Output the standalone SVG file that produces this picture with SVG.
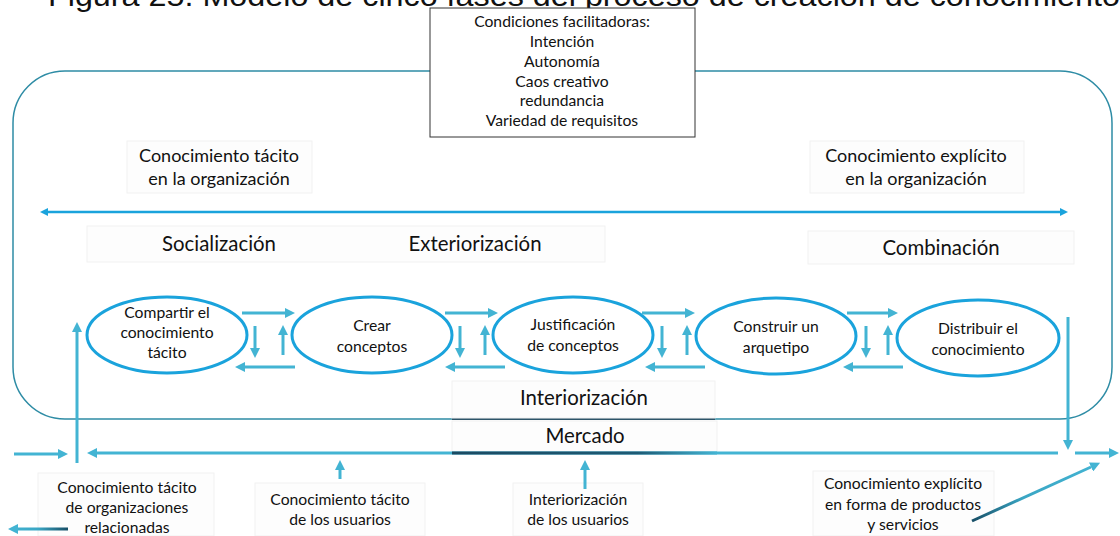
<svg xmlns="http://www.w3.org/2000/svg" width="1120" height="536" viewBox="0 0 1120 536">
<style>
.t{font-family:Lato,"Open Sans","Liberation Sans",sans-serif;font-size:15.7px;fill:#111;text-anchor:middle}
.m{font-family:Lato,"Open Sans","Liberation Sans",sans-serif;font-size:18px;fill:#111;text-anchor:middle}
.h{font-family:Lato,"Open Sans","Liberation Sans",sans-serif;font-size:20.4px;fill:#111;text-anchor:middle}
.bg{fill:#fdfdfd;stroke:#f1f1f1;stroke-width:1}
.el{fill:#fff;stroke:#1aa3dc;stroke-width:3}
.ar{stroke:#43b4d3;stroke-width:3;fill:none}
</style>
<defs>
<marker id="a" markerWidth="10" markerHeight="10" refX="0" refY="5" orient="auto-start-reverse" markerUnits="userSpaceOnUse"><path d="M0,0 L10,5 L0,10 z" fill="#43b4d3"/></marker>
<marker id="b" markerWidth="8" markerHeight="8" refX="0" refY="4" orient="auto-start-reverse" markerUnits="userSpaceOnUse"><path d="M0,0 L8,4 L0,8 z" fill="#1aa3dc"/></marker>
<linearGradient id="gm" x1="452" y1="0" x2="717" y2="0" gradientUnits="userSpaceOnUse"><stop offset="0" stop-color="#1b4a62"/><stop offset="0.7" stop-color="#1d5a74"/><stop offset="1" stop-color="#43b4d3"/></linearGradient>
<linearGradient id="gd" x1="972" y1="521" x2="1100" y2="463" gradientUnits="userSpaceOnUse"><stop offset="0" stop-color="#174e66"/><stop offset="0.4" stop-color="#3aa6c4"/><stop offset="1" stop-color="#43b4d3"/></linearGradient>
<linearGradient id="gl" x1="68" y1="0" x2="8" y2="0" gradientUnits="userSpaceOnUse"><stop offset="0" stop-color="#174e66"/><stop offset="0.5" stop-color="#3aa6c4"/><stop offset="1" stop-color="#43b4d3"/></linearGradient>
</defs>
<text x="48" y="6" font-family="'Liberation Sans',Arial,sans-serif" font-size="29" fill="#111" textLength="1072" lengthAdjust="spacingAndGlyphs">Figura 25. Modelo de cinco fases del proceso de creación de conocimiento</text>
<rect id="frame" x="13" y="71" width="1099" height="348" rx="52" ry="52" fill="none" stroke="#2e8ca5" stroke-width="1.5"/>
<line x1="452" y1="419" x2="715" y2="419" stroke="#1e3a4f" stroke-width="1.5"/>
<g id="conditions">
<rect x="430" y="8" width="265" height="129" fill="#fff" stroke="#333" stroke-width="1"/>
<text class="t" x="562" y="27">Condiciones facilitadoras:</text>
<text class="t" x="562" y="47">Intención</text>
<text class="t" x="562" y="67">Autonomía</text>
<text class="t" x="562" y="87">Caos creativo</text>
<text class="t" x="562" y="106">redundancia</text>
<text class="t" x="562" y="126">Variedad de requisitos</text>
</g>
<g id="tacit-org">
<rect class="bg" x="127" y="141" width="185" height="52"/>
<text class="m" x="219" y="162">Conocimiento tácito</text>
<text class="m" x="219" y="185">en la organización</text>
</g>
<g id="explicit-org">
<rect class="bg" x="810" y="141" width="214" height="52"/>
<text class="m" x="916" y="162">Conocimiento explícito</text>
<text class="m" x="916" y="185">en la organización</text>
</g>
<g id="phase-labels">
<rect class="bg" x="87" y="226" width="518" height="36"/>
<text class="h" x="219" y="251">Socialización</text>
<text class="h" x="475" y="251">Exteriorización</text>
<rect class="bg" x="808" y="231" width="266" height="33"/>
<text class="h" x="941" y="255">Combinación</text>
</g>
<g id="interiorizacion">
<rect class="bg" x="452" y="381" width="263" height="37"/>
<text class="h" x="584" y="405">Interiorización</text>
</g>
<g id="mercado">
<rect class="bg" x="452" y="421" width="265" height="31"/>
<text class="h" x="585" y="443">Mercado</text>
</g>
<g id="n1"><ellipse class="el" cx="167" cy="335" rx="80" ry="38"/>
<text class="t" x="167" y="318">Compartir el</text><text class="t" x="167" y="338">conocimiento</text><text class="t" x="167" y="358">tácito</text></g>
<g id="n2"><ellipse class="el" cx="372" cy="335" rx="80" ry="38"/>
<text class="t" x="372" y="331">Crear</text><text class="t" x="372" y="352">conceptos</text></g>
<g id="n3"><ellipse class="el" cx="573" cy="335" rx="80" ry="38"/>
<text class="t" x="573" y="330">Justificación</text><text class="t" x="573" y="351">de conceptos</text></g>
<g id="n4"><ellipse class="el" cx="776" cy="336" rx="80" ry="38"/>
<text class="t" x="776" y="332">Construir un</text><text class="t" x="776" y="353">arquetipo</text></g>
<g id="n5"><ellipse class="el" cx="978" cy="338" rx="81" ry="38"/>
<text class="t" x="978" y="334">Distribuir el</text><text class="t" x="978" y="355">conocimiento</text></g>
<g id="bl1"><rect class="bg" x="38" y="473" width="176" height="63"/>
<text class="t" x="127" y="493">Conocimiento tácito</text><text class="t" x="127" y="513">de organizaciones</text><text class="t" x="127" y="533">relacionadas</text></g>
<g id="bl2"><rect class="bg" x="255" y="483" width="170" height="53"/>
<text class="t" x="340" y="505">Conocimiento tácito</text><text class="t" x="340" y="525">de los usuarios</text></g>
<g id="bl3"><rect class="bg" x="513" y="483" width="130" height="53"/>
<text class="t" x="578" y="505">Interiorización</text><text class="t" x="578" y="525">de los usuarios</text></g>
<g id="bl4"><rect class="bg" x="813" y="471" width="181" height="65"/>
<text class="t" x="903" y="489">Conocimiento explícito</text><text class="t" x="903" y="510">en forma de productos</text><text class="t" x="903" y="530">y servicios</text></g>
<g id="connectors">
<line x1="48" y1="212" x2="1060" y2="212" stroke="#1aa3dc" stroke-width="2.5" marker-start="url(#b)" marker-end="url(#b)"/>
<line class="ar" x1="242" y1="313" x2="285" y2="313" marker-end="url(#a)"/>
<line class="ar" x1="255" y1="326" x2="255" y2="348" marker-end="url(#a)"/>
<line class="ar" x1="283" y1="355" x2="283" y2="335" marker-end="url(#a)"/>
<line class="ar" x1="295" y1="367" x2="245" y2="367" marker-end="url(#a)"/>
<line class="ar" x1="445" y1="313" x2="488" y2="313" marker-end="url(#a)"/>
<line class="ar" x1="460" y1="326" x2="460" y2="348" marker-end="url(#a)"/>
<line class="ar" x1="485" y1="355" x2="485" y2="335" marker-end="url(#a)"/>
<line class="ar" x1="505" y1="367" x2="455" y2="367" marker-end="url(#a)"/>
<line class="ar" x1="642" y1="313" x2="685" y2="313" marker-end="url(#a)"/>
<line class="ar" x1="662" y1="326" x2="662" y2="348" marker-end="url(#a)"/>
<line class="ar" x1="687" y1="355" x2="687" y2="335" marker-end="url(#a)"/>
<line class="ar" x1="705" y1="367" x2="655" y2="367" marker-end="url(#a)"/>
<line class="ar" x1="847" y1="313" x2="888" y2="313" marker-end="url(#a)"/>
<line class="ar" x1="866" y1="326" x2="866" y2="348" marker-end="url(#a)"/>
<line class="ar" x1="888" y1="355" x2="888" y2="335" marker-end="url(#a)"/>
<line class="ar" x1="903" y1="367" x2="853" y2="367" marker-end="url(#a)"/>
<line class="ar" x1="1068" y1="317" x2="1068" y2="440" marker-end="url(#a)"/>
<line class="ar" x1="77" y1="463" x2="77" y2="332" marker-end="url(#a)"/>
<line class="ar" x1="14" y1="454" x2="58" y2="454" marker-end="url(#a)"/>
<line class="ar" x1="1075" y1="453" x2="1109" y2="453" marker-end="url(#a)"/>
<line class="ar" x1="1058" y1="453" x2="97" y2="453" marker-end="url(#a)"/>
<line x1="452" y1="453" x2="717" y2="453" stroke="url(#gm)" stroke-width="3"/>
<line class="ar" x1="340" y1="479" x2="340" y2="470" marker-end="url(#a)"/>
<line class="ar" x1="585" y1="489" x2="585" y2="470" marker-end="url(#a)"/>
<line x1="972" y1="521" x2="1091" y2="467" stroke="url(#gd)" stroke-width="3" marker-end="url(#a)"/>
<line x1="68" y1="529" x2="18" y2="529" stroke="url(#gl)" stroke-width="3" marker-end="url(#a)"/>
</g>
</svg>
